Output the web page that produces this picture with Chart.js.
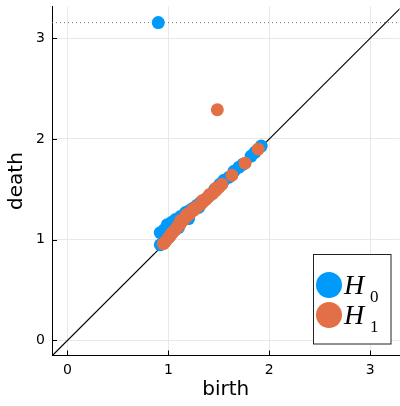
<!DOCTYPE html>
<html><head><meta charset="utf-8">
<script src="https://cdn.jsdelivr.net/npm/chart.js@4"></script>
<style>html,body{margin:0;padding:0;background:#fff}#wrap{width:400px;height:406px}</style>
</head><body><div id="wrap"><canvas id="c" width="400" height="406"></canvas></div>
<script>
// ---- data ----
const infinityLevel = 3.155;
const h0Birth = [0.90, 0.92, 0.92, 0.96, 0.99, 1.03, 1.07, 1.12, 1.17, 1.21, 1.24, 1.28, 1.32, 1.39, 1.42, 1.46, 1.51, 1.55, 1.60, 1.65, 1.70, 1.74, 1.82, 1.86, 1.92, 1.00, 1.10, 1.20, 1.30];
const h0Death = [3.155, 0.95, 1.07, 1.10, 1.15, 1.17, 1.20, 1.23, 1.27, 1.29, 1.31, 1.34, 1.37, 1.42, 1.45, 1.50, 1.55, 1.59, 1.62, 1.68, 1.72, 1.75, 1.83, 1.87, 1.93, 1.02, 1.12, 1.21, 1.32];
const h1Birth = [0.95, 0.97, 1.00, 1.02, 1.05, 1.07, 1.10, 1.12, 1.15, 1.18, 1.20, 1.23, 1.25, 1.28, 1.30, 1.33, 1.36, 1.38, 1.41, 1.44, 1.47, 1.50, 1.53, 1.03, 1.09, 1.15, 1.21, 1.27, 1.34, 1.41, 1.47, 1.12, 1.18, 1.24, 1.63, 1.76, 1.89, 1.485];
const h1Death = [0.96, 0.98, 1.02, 1.04, 1.08, 1.10, 1.14, 1.16, 1.20, 1.23, 1.25, 1.28, 1.29, 1.32, 1.34, 1.36, 1.39, 1.41, 1.44, 1.46, 1.49, 1.52, 1.55, 1.06, 1.13, 1.20, 1.26, 1.32, 1.39, 1.45, 1.51, 1.19, 1.25, 1.30, 1.64, 1.76, 1.90, 2.29];
const xLimits = [-0.153, 3.29];
const yLimits = [-0.149, 3.315];
const tickValues = [0, 1, 2, 3];
const seriesLetters = ['H', 'H'];
const seriesSubscripts = ['0', '1'];
const xTitle = 'birth';
const yTitle = 'death';

const BLUE = '#009AFA', ORANGE = '#E26F46';
const toPts = (bs, ds) => bs.map((b, i) => ({x: b, y: ds[i]}));
const dLo = Math.min(xLimits[0], yLimits[0]), dHi = Math.max(xLimits[1], yLimits[1]);

const innerTicks = {
  id: 'innerTicks',
  beforeDatasetsDraw(chart) {
    const {ctx, chartArea: a, scales: {x, y}} = chart;
    ctx.save();
    ctx.strokeStyle = '#000'; ctx.lineWidth = 1;
    ctx.beginPath();
    tickValues.forEach(v => {
      const px = Math.round(x.getPixelForValue(v)) + 0.5;
      ctx.moveTo(px, a.bottom); ctx.lineTo(px, a.bottom - 5);
      const py = Math.round(y.getPixelForValue(v)) + 0.5;
      ctx.moveTo(a.left, py); ctx.lineTo(a.left + 5, py);
    });
    ctx.stroke();
    ctx.restore();
  }
};

const boxLegend = {
  id: 'boxLegend',
  afterDraw(chart) {
    const ctx = chart.ctx;
    const colors = [BLUE, ORANGE];
    ctx.save();
    ctx.fillStyle = '#fff';
    ctx.fillRect(313, 254, 78, 90);
    ctx.strokeStyle = '#222'; ctx.lineWidth = 1;
    ctx.strokeRect(313.5, 254.5, 77.5, 89.5);
    const rows = [285, 315];
    rows.forEach((cy, i) => {
      ctx.beginPath();
      ctx.arc(329, cy, 13, 0, Math.PI * 2);
      ctx.fillStyle = colors[i]; ctx.fill();
      ctx.fillStyle = '#000';
      ctx.textAlign = 'left'; ctx.textBaseline = 'alphabetic';
      ctx.font = "italic 28px 'Liberation Serif'";
      ctx.fillText(seriesLetters[i], 344, cy + 8.5);
      ctx.font = "17px 'Liberation Serif'";
      ctx.fillText(seriesSubscripts[i], 370, cy + 17);
    });
    ctx.restore();
  }
};

const tickFont = {family: 'DejaVu Sans', size: 14};
const titleFont = {family: 'DejaVu Sans', size: 20};
const gridCfg = {color: '#e8e8e8', lineWidth: 1, drawTicks: false};

new Chart(document.getElementById('c'), {
  type: 'scatter',
  data: {
    datasets: [
      {label: 'H1', data: toPts(h1Birth, h1Death), backgroundColor: ORANGE, pointRadius: 6.5, pointHoverRadius: 6.5, borderWidth: 0, order: 0},
      {label: 'H0', data: toPts(h0Birth, h0Death), backgroundColor: BLUE, pointRadius: 6.5, pointHoverRadius: 6.5, borderWidth: 0, order: 1},
      {type: 'line', label: 'inf', data: [{x: xLimits[0], y: infinityLevel}, {x: xLimits[1], y: infinityLevel}], borderColor: '#7a7a7a', borderWidth: 1, borderDash: [1, 3], pointRadius: 0, fill: false, order: 2},
      {type: 'line', label: 'diag', data: [{x: dLo, y: dLo}, {x: dHi, y: dHi}], borderColor: '#000', borderWidth: 1.2, pointRadius: 0, fill: false, order: 3}
    ]
  },
  options: {
    responsive: false, animation: false,
    layout: {autoPadding: false, padding: {top: 6.5, right: 0.5, left: 0, bottom: 0}},
    plugins: {legend: {display: false}, tooltip: {enabled: false}},
    scales: {
      x: {
        type: 'linear', min: xLimits[0], max: xLimits[1],
        afterFit(s) { s.height = 50.5; s.paddingLeft = 0; s.paddingRight = 0; },
        ticks: {stepSize: 1, includeBounds: false, font: tickFont, color: '#000', padding: 6, maxRotation: 0},
        grid: gridCfg,
        border: {color: '#000', width: 1},
        title: {display: true, text: xTitle, font: titleFont, color: '#000', padding: {top: 0, bottom: 4}}
      },
      y: {
        type: 'linear', min: yLimits[0], max: yLimits[1],
        afterFit(s) { s.width = 52; s.paddingTop = 0; s.paddingBottom = 0; },
        ticks: {stepSize: 1, includeBounds: false, font: tickFont, color: '#000', padding: 7},
        grid: gridCfg,
        border: {color: '#000', width: 1},
        title: {display: true, text: yTitle, font: titleFont, color: '#000', padding: {top: 5, bottom: 0}}
      }
    }
  },
  plugins: [innerTicks, boxLegend]
});
</script>
</body></html>
